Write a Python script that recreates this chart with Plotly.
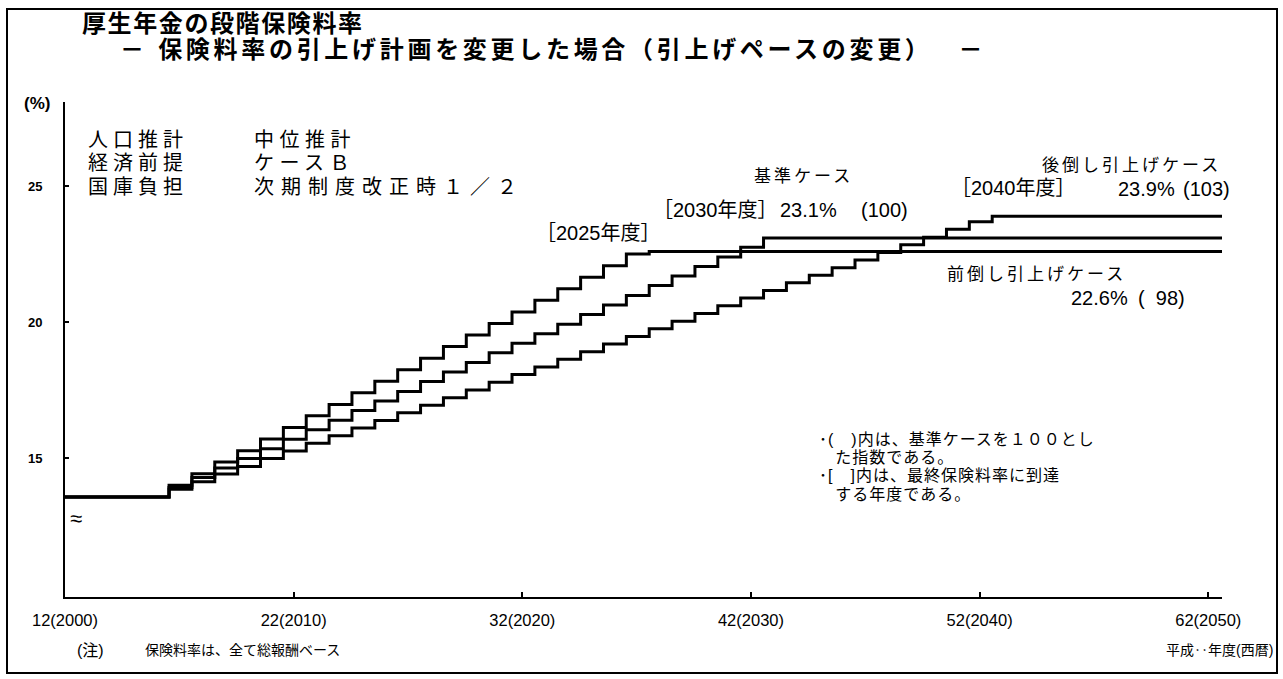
import plotly.graph_objects as go

# ---------------- data (fiscal year of each rate change, new rate in %) ----------------
FRONT_FY = [2000, 2004, 2005, 2006, 2007, 2008, 2009, 2010, 2011, 2012, 2013, 2014,
            2015, 2016, 2017, 2018, 2019, 2020, 2021, 2022, 2023, 2024, 2025]
FRONT_RATE = [13.58, 14.01, 14.43, 14.86, 15.28, 15.71, 16.13, 16.56, 16.98, 17.41, 17.83, 18.26,
              18.68, 19.11, 19.53, 19.96, 20.38, 20.81, 21.23, 21.66, 22.08, 22.51, 22.60]

BASE_FY = [2000, 2004, 2005, 2006, 2007, 2008, 2009, 2010, 2011, 2012, 2013, 2014,
           2015, 2016, 2017, 2018, 2019, 2020, 2021, 2022, 2023, 2024, 2025, 2026,
           2027, 2028, 2029, 2030]
BASE_RATE = [13.58, 13.93, 14.29, 14.64, 14.99, 15.35, 15.70, 16.05, 16.40, 16.76, 17.11, 17.46,
             17.82, 18.17, 18.52, 18.88, 19.23, 19.58, 19.93, 20.29, 20.64, 20.99, 21.35, 21.70,
             22.05, 22.40, 22.76, 23.10]

BACK_FY = [2000, 2004, 2005, 2006, 2007, 2008, 2009, 2010, 2011, 2012, 2013, 2014,
           2015, 2016, 2017, 2018, 2019, 2020, 2021, 2022, 2023, 2024, 2025, 2026,
           2027, 2028, 2029, 2030, 2031, 2032, 2033, 2034, 2035, 2036, 2037, 2038,
           2039, 2040]
BACK_RATE = [13.58, 13.86, 14.14, 14.42, 14.70, 14.99, 15.27, 15.55, 15.83, 16.11, 16.39, 16.67,
             16.95, 17.23, 17.51, 17.80, 18.08, 18.36, 18.64, 18.92, 19.20, 19.48, 19.76, 20.04,
             20.32, 20.61, 20.89, 21.17, 21.45, 21.73, 22.01, 22.29, 22.57, 22.85, 23.13, 23.42,
             23.70, 23.90]

X_TICK_VALS = [2000, 2010, 2020, 2030, 2040, 2050]
X_TICK_TEXT = ["12(2000)", "22(2010)", "32(2020)", "42(2030)", "52(2040)", "62(2050)"]
Y_TICK_VALS = [15, 20, 25]
Y_TICK_TEXT = ["15", "20", "25"]

# ---------------- layout geometry ----------------
W, H = 1283, 679
L, R, T, B = 65, 61, 102, 82
X_RANGE = [2000, 2050.6]
Y_RANGE = [9.9, 28.1]
STEP_OFFSET = 0.55   # raise takes effect part way into the year
JP = "Liberation Sans, Noto Sans CJK JP"
NUM = "Liberation Sans"
NB = "\u00a0"


def px(x):
    return (x - L) / (W - L - R)


def py(y):
    return (H - B - y) / (H - T - B)


def step_xy(fy, rate):
    xs = [X_RANGE[0]] + [f + STEP_OFFSET for f in fy[1:]] + [X_RANGE[1]]
    ys = list(rate) + [rate[-1]]
    return xs, ys


fig = go.Figure()
for name, fy, rate in [("前倒し引上げケース", FRONT_FY, FRONT_RATE),
                       ("基準ケース", BASE_FY, BASE_RATE),
                       ("後倒し引上げケース", BACK_FY, BACK_RATE)]:
    xs, ys = step_xy(fy, rate)
    fig.add_trace(go.Scatter(x=xs, y=ys, mode="lines", name=name,
                             line=dict(color="black", width=3, shape="hv"),
                             showlegend=False, hoverinfo="skip"))


def sp(text, size=None, ls=0):
    st = []
    if size:
        st.append(f"font-size:{size}px")
    if ls:
        st.append(f"letter-spacing:{ls}px")
    return f'<span style="{";".join(st)}">{text}</span>' if st else text


def note(text, x, y, size, xanchor="left", weight="normal", ls=0, family=JP):
    fig.add_annotation(text=sp(text, ls=ls), x=px(x), y=py(y), xref="paper", yref="paper",
                       xanchor=xanchor, yanchor="middle", showarrow=False, align="left",
                       font=dict(size=size, family=family, color="black", weight=weight))


def block(lines, x, y_first, base_size, size, weight="normal"):
    """multi-line text; line pitch = 1.3 * base_size, glyphs drawn at `size`.
    lines: list of (text, letter_spacing)"""
    n = len(lines)
    pitch = 1.3 * base_size
    text = "<br>".join(sp(s, size=size, ls=ls) for s, ls in lines)
    fig.add_annotation(text=text, x=px(x), y=py(y_first + pitch * (n - 1) / 2),
                       xref="paper", yref="paper", xanchor="left", yanchor="middle",
                       showarrow=False, align="left",
                       font=dict(size=base_size, family=JP, color="black", weight=weight))


# titles
block([("厚生年金の段階保険料率", 1.6),
       ("　" + NB + "－" + NB + "保険料率の引上げ計画を変更した場合（引上げペースの変更）　" + NB + "－", 3.7)],
      80, 23, 20.0, 24, weight="bold")

# axis captions
note("(%)", 37, 103, 17, xanchor="center", family=NUM, weight="bold")
note("≈", 76, 518, 22, xanchor="center", family=NUM)

# assumption block
block([("人口推計", 5), ("経済前提", 5), ("国庫負担", 5)], 86, 140, 18, 20)
block([("中位推計", 5.5), ("ケースＢ", 5.5), ("次期制度改正時１／２", 7)], 252, 140, 18, 20)

# case labels
note("基準ケース", 752, 176, 17, ls=3)
note("［2030年度］", 651, 210, 20)
note("23.1%", 778, 210, 20, family=NUM)
note("(100)", 859, 210, 20, family=NUM)
note("［2025年度］", 534, 233, 20)
note("後倒し引上げケース", 1040, 165, 17, ls=3)
note("［2040年度］", 949, 188, 20)
note("23.9%", 1116, 189, 20, family=NUM)
note("(103)", 1181, 189, 20, family=NUM)
note("前倒し引上げケース", 945, 274, 17, ls=3)
note("22.6%", 1069, 298, 20, family=NUM)
note("(" + NB + NB + "98)", 1136, 298, 20, family=NUM)

# explanatory notes
block([("･(　)内は、基準ケースを１００とし", 1),
       (NB * 3 + "た指数である。", 1),
       ("･[　]内は、最終保険料率に到達", 1),
       (NB * 3 + "する年度である。", 1)], 817, 440, 14, 16)

# footnotes
note("(注)", 75, 650, 16)
note("保険料率は、全て総報酬ベース", 143, 650, 14)
note("平成‥年度(西暦)", 1275, 650, 14, xanchor="right")

# outer frame
fig.add_shape(type="rect", xref="paper", yref="paper",
              x0=px(7), x1=px(1277), y0=py(9), y1=py(673),
              line=dict(color="black", width=2), fillcolor="rgba(0,0,0,0)", layer="below")

fig.update_layout(
    width=W, height=H, autosize=False,
    margin=dict(l=L, r=R, t=T, b=B, pad=0),
    paper_bgcolor="white", plot_bgcolor="white",
    showlegend=False,
    xaxis=dict(range=X_RANGE, tickvals=X_TICK_VALS, ticktext=X_TICK_TEXT,
               ticks="inside", ticklen=5, tickwidth=1.5, tickcolor="black",
               showline=True, linewidth=2, linecolor="black",
               showgrid=False, zeroline=False, ticklabelstandoff=7,
               tickfont=dict(family=NUM, size=16.5, color="black")),
    yaxis=dict(range=Y_RANGE, tickvals=Y_TICK_VALS, ticktext=Y_TICK_TEXT,
               ticks="inside", ticklen=4, tickwidth=2, tickcolor="black",
               showline=True, linewidth=2, linecolor="black",
               showgrid=False, zeroline=False, ticklabelstandoff=18,
               tickfont=dict(family=NUM, size=13, color="black", weight="bold")),
)

fig.write_html("out.html")
